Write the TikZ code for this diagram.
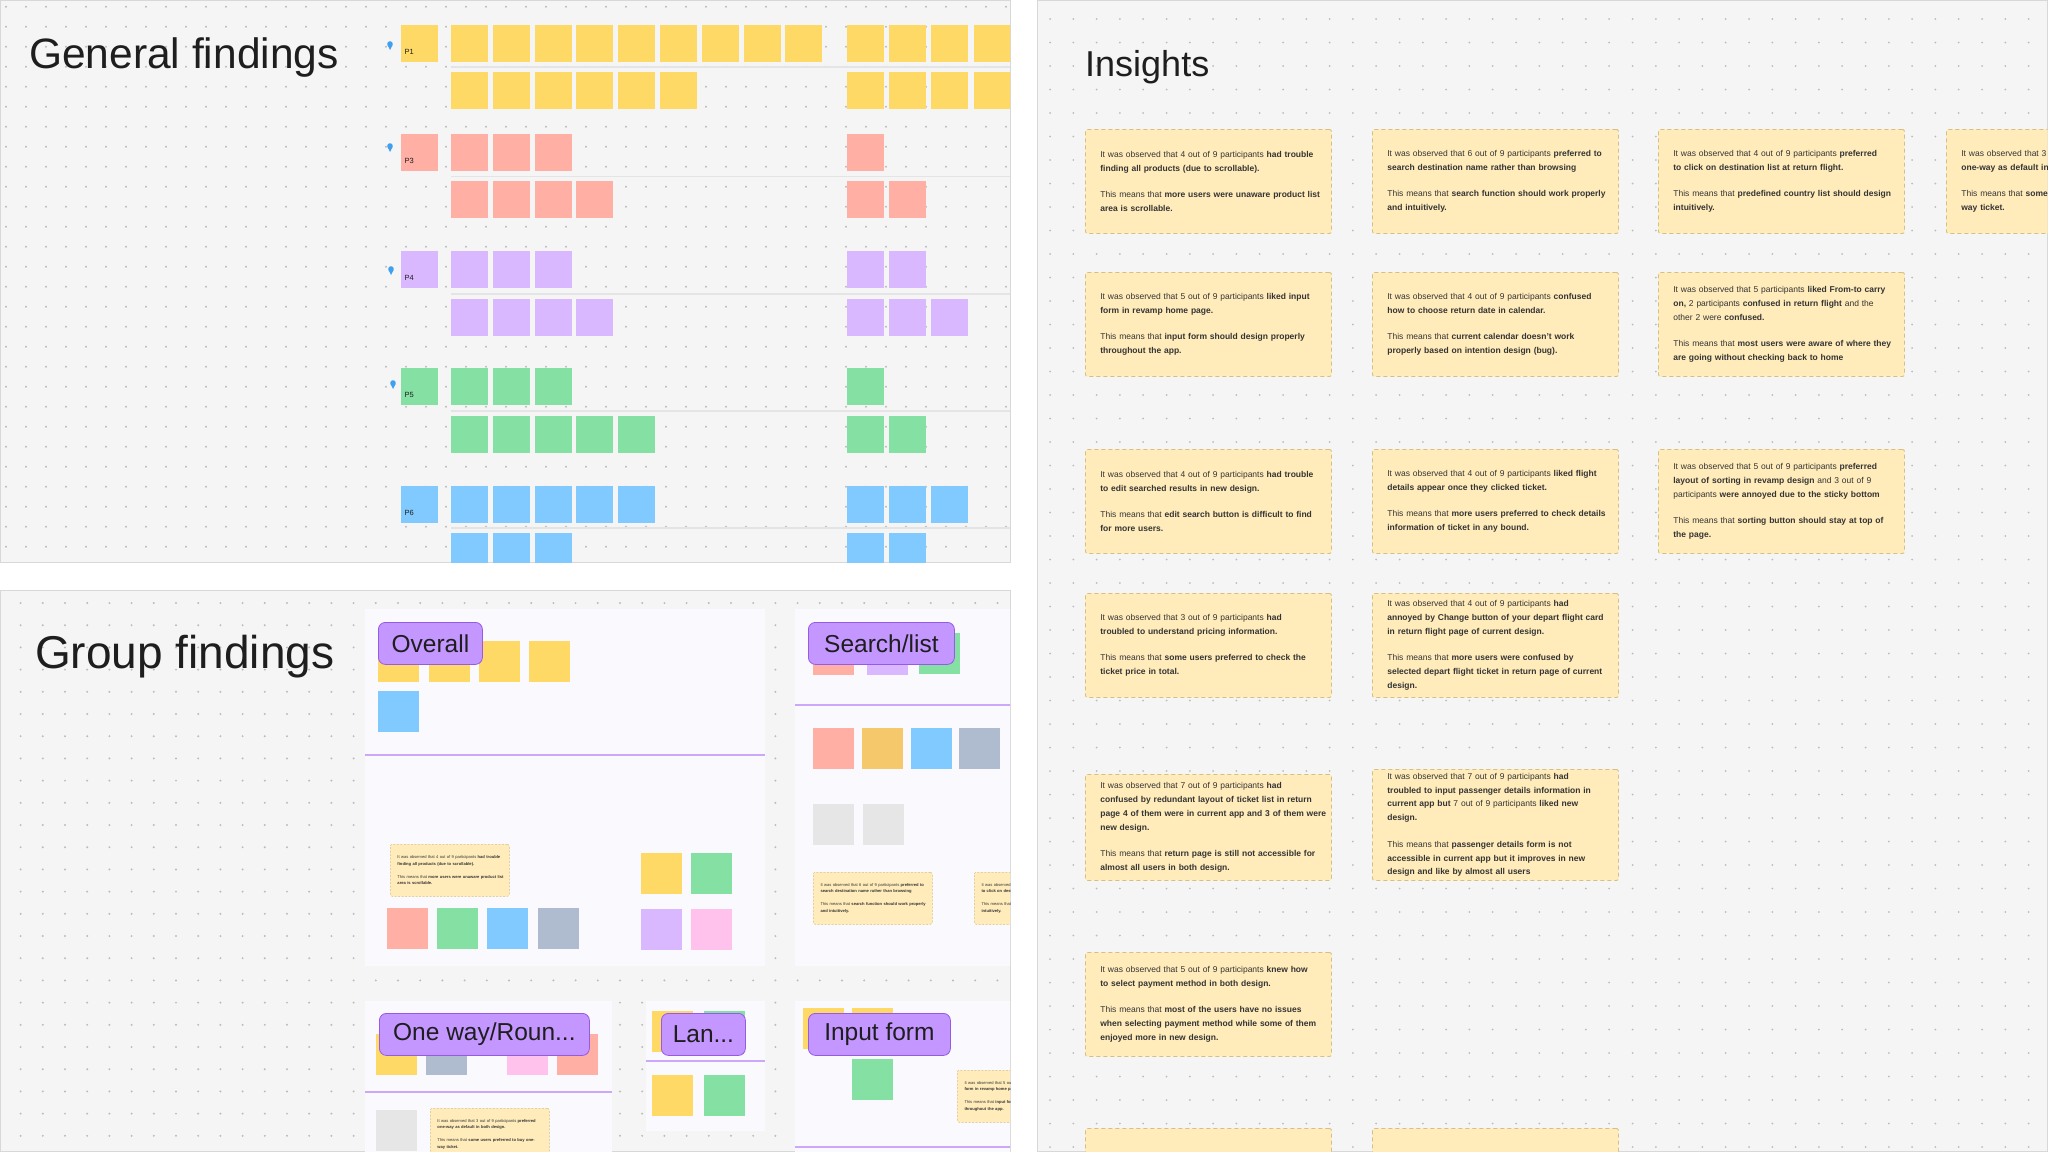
\documentclass[tikz,border=0pt]{standalone}
\usepackage{fontspec}
\setmainfont{Liberation Sans}

\definecolor{panelbg}{RGB}{245,245,245}
\definecolor{paneledge}{RGB}{216,216,216}
\definecolor{dotgray}{RGB}{188,188,188}
\definecolor{sepgray}{RGB}{228,228,228}
\definecolor{titleink}{RGB}{30,30,30}
\definecolor{inktext}{RGB}{52,52,52}
\definecolor{noteyellow}{RGB}{255,217,102}
\definecolor{notered}{RGB}{255,175,163}
\definecolor{notepurple}{RGB}{217,184,255}
\definecolor{notegreen}{RGB}{133,224,163}
\definecolor{noteblue}{RGB}{128,202,255}
\definecolor{noteslate}{RGB}{175,188,207}
\definecolor{notepink}{RGB}{255,194,236}
\definecolor{notegray}{RGB}{230,230,230}
\definecolor{noteorange}{RGB}{246,200,108}
\definecolor{framebg}{RGB}{250,249,254}
\definecolor{frameline}{RGB}{203,168,250}
\definecolor{tagfill}{RGB}{196,150,255}
\definecolor{tagedge}{RGB}{150,90,230}
\definecolor{cardfill}{RGB}{255,236,186}
\definecolor{cardedge}{RGB}{214,192,128}
\definecolor{pinblue}{RGB}{64,160,240}

% one insight: observation, then what it means
\newcommand{\obs}[2]{\leftskip=1.4em #1\\[0.92\baselineskip]#2\par}
% insight texts, reused in the group frames
\newcommand{\insA}{\obs{It was observed that 4 out of 9 participants \textbf{had trouble}\\\textbf{finding all products (due to scrollable).}}{This means that \textbf{more users were unaware product list}\\\textbf{area is scrollable.}}}
\newcommand{\insB}{\obs{It was observed that 6 out of 9 participants \textbf{preferred to}\\\textbf{search destination name rather than browsing}}{This means that \textbf{search function should work properly}\\\textbf{and intuitively.}}}
\newcommand{\insC}{\obs{It was observed that 4 out of 9 participants \textbf{preferred}\\\textbf{to click on destination list at return flight.}}{This means that \textbf{predefined country list should design}\\\textbf{intuitively.}}}
\newcommand{\insD}{\obs{It was observed that 3 out of 9 participants \textbf{preferred}\\\textbf{one-way as default in both design.}}{This means that \textbf{some users preferred to buy one-}\\\textbf{way ticket.}}}
\newcommand{\insE}{\obs{It was observed that 5 out of 9 participants \textbf{liked input}\\\textbf{form in revamp home page.}}{This means that \textbf{input form should design properly}\\\textbf{throughout the app.}}}

\begin{document}
\begin{tikzpicture}[x=1pt,y=-1pt]
\tikzset{
  panel/.style={fill=panelbg,draw=paneledge,line width=1pt},
  sticky/.style={rectangle,anchor=north west,inner sep=0pt,outer sep=0pt,minimum width=37pt,minimum height=37pt},
  bigsticky/.style={sticky,minimum width=41pt,minimum height=41pt},
  sepline/.style={draw=sepgray,line width=1.8pt},
  tagline/.style={draw=frameline,line width=1.4pt},
  sectiontag/.style={rectangle,rounded corners=7pt,fill=tagfill,draw=tagedge,line width=0.8pt,anchor=north west,inner sep=0pt,minimum height=42pt,font=\fontsize{24.5}{28}\selectfont,text=titleink},
  title/.style={anchor=base west,inner sep=0pt,text=titleink},
  plabel/.style={anchor=base west,inner sep=0pt,font=\fontsize{7.5}{8}\selectfont,text=titleink},
  insight/.style={rectangle,draw=cardedge,line width=0.9pt,dash pattern=on 4pt off 3pt,fill=cardfill,rounded corners=2pt,anchor=north west,minimum width=246pt,minimum height=104pt,text width=240pt,inner xsep=3pt,inner ysep=0pt,align=left,text=inktext,font=\fontsize{8.5}{13.8}\selectfont},
  smallcard/.style={insight,line width=0.5pt,dash pattern=on 2pt off 1.5pt,minimum width=119pt,minimum height=52pt,text width=116pt,inner xsep=1.5pt,font=\fontsize{4.1}{6.7}\selectfont}
}
\fill[white] (0,0) rectangle (2048,1152);
\useasboundingbox (0,0) rectangle (2048,1152);

% ---------- General findings ----------
\path[panel] (0.5,0.5) rectangle (1010,562);
\begin{scope}
\clip (0.5,0.5) rectangle (1010,562);
\fill[dotgray] \foreach \i in {6,26,...,1006} {\foreach \j in {6.7,26.7,...,560} {(\i,\j) circle (1.1)}};
\node[title,font=\fontsize{42.5}{48}\selectfont] (t_general) at (29,68) {General findings};
\foreach \y in {67,176.5,294,411,528} \draw[sepline] (451,\y) -- (1012,\y);

\node[sticky,fill=noteyellow] (n_P1) at (401,24.5) {};
\node[plabel] (l_P1) at (404.5,54) {P1};
\foreach \x [count=\k] in {451,492.8,534.6,576.4,618.2,660,701.8,743.6,785.4,847,889.2,931.4,973.6}
  \node[sticky,fill=noteyellow] (n_P1a\k) at (\x,24.5) {};
\foreach \x [count=\k] in {451,492.8,534.6,576.4,618.2,660,847,889.2,931.4,973.6}
  \node[sticky,fill=noteyellow] (n_P1b\k) at (\x,72) {};

\node[sticky,fill=notered] (n_P3) at (401,134) {};
\node[plabel] (l_P3) at (404.5,163.5) {P3};
\foreach \x [count=\k] in {451,492.8,534.6,847}
  \node[sticky,fill=notered] (n_P3a\k) at (\x,134) {};
\foreach \x [count=\k] in {451,492.8,534.6,576.4,847,889.2}
  \node[sticky,fill=notered] (n_P3b\k) at (\x,181) {};

\node[sticky,fill=notepurple] (n_P4) at (401,251) {};
\node[plabel] (l_P4) at (404.5,280.5) {P4};
\foreach \x [count=\k] in {451,492.8,534.6,847,889.2}
  \node[sticky,fill=notepurple] (n_P4a\k) at (\x,251) {};
\foreach \x [count=\k] in {451,492.8,534.6,576.4,847,889.2,931.4}
  \node[sticky,fill=notepurple] (n_P4b\k) at (\x,299) {};

\node[sticky,fill=notegreen] (n_P5) at (401,368) {};
\node[plabel] (l_P5) at (404.5,397.5) {P5};
\foreach \x [count=\k] in {451,492.8,534.6,847}
  \node[sticky,fill=notegreen] (n_P5a\k) at (\x,368) {};
\foreach \x [count=\k] in {451,492.8,534.6,576.4,618.2,847,889.2}
  \node[sticky,fill=notegreen] (n_P5b\k) at (\x,416) {};

\node[sticky,fill=noteblue] (n_P6) at (401,486) {};
\node[plabel] (l_P6) at (404.5,515.5) {P6};
\foreach \x [count=\k] in {451,492.8,534.6,576.4,618.2,847,889.2,931.4}
  \node[sticky,fill=noteblue] (n_P6a\k) at (\x,486) {};
\foreach \x [count=\k] in {451,492.8,534.6,847,889.2}
  \node[sticky,fill=noteblue] (n_P6b\k) at (\x,533) {};

% pins
\foreach \px/\py in {390/44,390/146,391/269,393/383} {
  \fill[pinblue] (\px,\py) circle (2.8);
  \fill[pinblue] (\px-2.5,\py+1) -- (\px,\py+6) -- (\px+2.5,\py+1) -- cycle;
}
\end{scope}

% ---------- Group findings ----------
\path[panel] (0.5,590) rectangle (1010,1151.5);
\begin{scope}
\clip (0.5,590) rectangle (1010,1151.5);
\fill[dotgray] \foreach \i in {20.6,42.8,...,1010} {\foreach \j in {603,625.2,...,1152} {(\i,\j) circle (1.1)}};
\node[title,font=\fontsize{46}{52}\selectfont] (t_group) at (35,668) {Group findings};

\fill[framebg] (365,609) rectangle (765,966);
\fill[framebg] (795,609) rectangle (1012,966);
\fill[framebg] (365,1001) rectangle (612,1153);
\fill[framebg] (646,1001) rectangle (765,1131);
\fill[framebg] (795,1001) rectangle (1012,1153);
\draw[tagline] (365,755) -- (765,755);
\draw[tagline] (795,705) -- (1012,705);
\draw[tagline] (365,1092) -- (612,1092);
\draw[tagline] (646,1061) -- (765,1061);
\draw[tagline] (795,1147) -- (1012,1147);

% Overall
\node[bigsticky,fill=noteyellow] (o_y1) at (378,641) {};
\node[bigsticky,fill=noteyellow] (o_y2) at (429,641) {};
\node[bigsticky,fill=noteyellow] (o_y3) at (479,641) {};
\node[bigsticky,fill=noteyellow] (o_y4) at (529,641) {};
\node[bigsticky,fill=noteblue] (o_b1) at (378,691) {};
\node[smallcard] (o_card) at (390,844) {\insA};
\node[bigsticky,fill=notered] (o_r1) at (387,908) {};
\node[bigsticky,fill=notegreen] (o_g1) at (437,908) {};
\node[bigsticky,fill=noteblue] (o_b2) at (487,908) {};
\node[bigsticky,fill=noteslate] (o_s1) at (538,908) {};
\node[bigsticky,fill=noteyellow] (o_y5) at (641,853) {};
\node[bigsticky,fill=notegreen] (o_g2) at (691,853) {};
\node[bigsticky,fill=notepurple] (o_p1) at (641,909) {};
\node[bigsticky,fill=notepink] (o_k1) at (691,909) {};
\node[sectiontag,minimum width=104pt] (tag_overall) at (378,622) {Overall};

% Search/list
\node[bigsticky,fill=notered] (s_r1) at (813,634) {};
\node[bigsticky,fill=notepurple] (s_p1) at (867,634) {};
\node[bigsticky,fill=notegreen] (s_g1) at (919,633) {};
\node[bigsticky,fill=notered] (s_r2) at (813,728) {};
\node[bigsticky,fill=noteorange] (s_o1) at (862,728) {};
\node[bigsticky,fill=noteblue] (s_b1) at (911,728) {};
\node[bigsticky,fill=noteslate] (s_s1) at (959,728) {};
\node[bigsticky,fill=notegray] (s_e1) at (813,804) {};
\node[bigsticky,fill=notegray] (s_e2) at (863,804) {};
\node[smallcard] (s_card1) at (813,872) {\insB};
\node[smallcard] (s_card2) at (974,872) {\insC};
\node[sectiontag,minimum width=146pt] (tag_search) at (808,622) {Search/list};

% One way/Round trip
\node[bigsticky,fill=noteyellow] (w_y1) at (376,1034) {};
\node[bigsticky,fill=noteslate] (w_s1) at (426,1034) {};
\node[bigsticky,fill=notepink] (w_k1) at (507,1034) {};
\node[bigsticky,fill=notered] (w_r1) at (557,1034) {};
\node[bigsticky,fill=notegray] (w_e1) at (376,1110) {};
\node[smallcard] (w_card) at (430,1108) {\insD};
\node[sectiontag,minimum width=210pt] (tag_oneway) at (379,1013) {One way/Roun...};

% Language
\node[bigsticky,fill=noteyellow] (l_y1) at (652,1011) {};
\node[bigsticky,fill=notegreen] (l_g1) at (704,1011) {};
\node[bigsticky,fill=noteyellow] (l_y2) at (652,1075) {};
\node[bigsticky,fill=notegreen] (l_g2) at (704,1075) {};
\node[sectiontag,minimum width=84pt] (tag_lan) at (661,1013) {Lan...};

% Input form
\node[bigsticky,fill=noteyellow] (i_y1) at (803,1008) {};
\node[bigsticky,fill=noteyellow] (i_y2) at (852,1008) {};
\node[bigsticky,fill=notegreen] (i_g1) at (852,1059) {};
\node[smallcard] (i_card) at (957,1070) {\insE};
\node[sectiontag,minimum width=142pt] (tag_input) at (808,1013) {Input form};
\end{scope}

% ---------- Insights ----------
\path[panel] (1037,0.5) rectangle (2047.5,1151.5);
\begin{scope}
\clip (1037,0.5) rectangle (2047.5,1151.5);
\fill[dotgray] \foreach \i in {1050,1073.3,...,2048} {\foreach \j in {19,42.5,...,1152} {(\i,\j) circle (1)}};
\node[title,font=\fontsize{36}{42}\selectfont] (t_insights) at (1085,76) {Insights};

\node[insight] (c_11) at (1085,129) {\insA};
\node[insight] (c_12) at (1372,129) {\insB};
\node[insight] (c_13) at (1658,129) {\insC};
\node[insight] (c_14) at (1946,129) {\insD};

\node[insight] (c_21) at (1085,272) {\insE};
\node[insight] (c_22) at (1372,272) {\obs{It was observed that 4 out of 9 participants \textbf{confused}\\\textbf{how to choose return date in calendar.}}{This means that \textbf{current calendar doesn't work}\\\textbf{properly based on intention design (bug).}}};
\node[insight] (c_23) at (1658,272) {\obs{It was observed that 5 participants \textbf{liked From-to carry}\\\textbf{on,} 2 participants \textbf{confused in return flight} and the\\other 2 were \textbf{confused.}}{This means that \textbf{most users were aware of where they}\\\textbf{are going without checking back to home}}};

\node[insight] (c_31) at (1085,449) {\obs{It was observed that 4 out of 9 participants \textbf{had trouble}\\\textbf{to edit searched results in new design.}}{This means that \textbf{edit search button is difficult to find}\\\textbf{for more users.}}};
\node[insight] (c_32) at (1372,449) {\obs{It was observed that 4 out of 9 participants \textbf{liked flight}\\\textbf{details appear once they clicked ticket.}}{This means that \textbf{more users preferred to check details}\\\textbf{information of ticket in any bound.}}};
\node[insight] (c_33) at (1658,449) {\obs{It was observed that 5 out of 9 participants \textbf{preferred}\\\textbf{layout of sorting in revamp design} and 3 out of 9\\participants \textbf{were annoyed due to the sticky bottom}}{This means that \textbf{sorting button should stay at top of}\\\textbf{the page.}}};

\node[insight] (c_41) at (1085,593) {\obs{It was observed that 3 out of 9 participants \textbf{had}\\\textbf{troubled to understand pricing information.}}{This means that \textbf{some users preferred to check the}\\\textbf{ticket price in total.}}};
\node[insight] (c_42) at (1372,593) {\obs{It was observed that 4 out of 9 participants \textbf{had}\\\textbf{annoyed by Change button of your depart flight card}\\\textbf{in return flight page of current design.}}{This means that \textbf{more users were confused by}\\\textbf{selected depart flight ticket in return page of current}\\\textbf{design.}}};

\node[insight,minimum height=106pt] (c_51) at (1085,774) {\obs{It was observed that 7 out of 9 participants \textbf{had}\\\textbf{confused by redundant layout of ticket list in return}\\\textbf{page 4 of them were in current app and 3 of them were}\\\textbf{new design.}}{This means that \textbf{return page is still not accessible for}\\\textbf{almost all users in both design.}}};
\node[insight,minimum height=111pt] (c_52) at (1372,769) {\obs{It was observed that 7 out of 9 participants \textbf{had}\\\textbf{troubled to input passenger details information in}\\\textbf{current app but} 7 out of 9 participants \textbf{liked new}\\\textbf{design.}}{This means that \textbf{passenger details form is not}\\\textbf{accessible in current app but it improves in new}\\\textbf{design and like by almost all users}}};

\node[insight] (c_61) at (1085,952) {\obs{It was observed that 5 out of 9 participants \textbf{knew how}\\\textbf{to select payment method in both design.}}{This means that \textbf{most of the users have no issues}\\\textbf{when selecting payment method while some of them}\\\textbf{enjoyed more in new design.}}};

\node[insight] (c_71) at (1085,1128) {};
\node[insight] (c_72) at (1372,1128) {};
\end{scope}
\end{tikzpicture}
\end{document}
